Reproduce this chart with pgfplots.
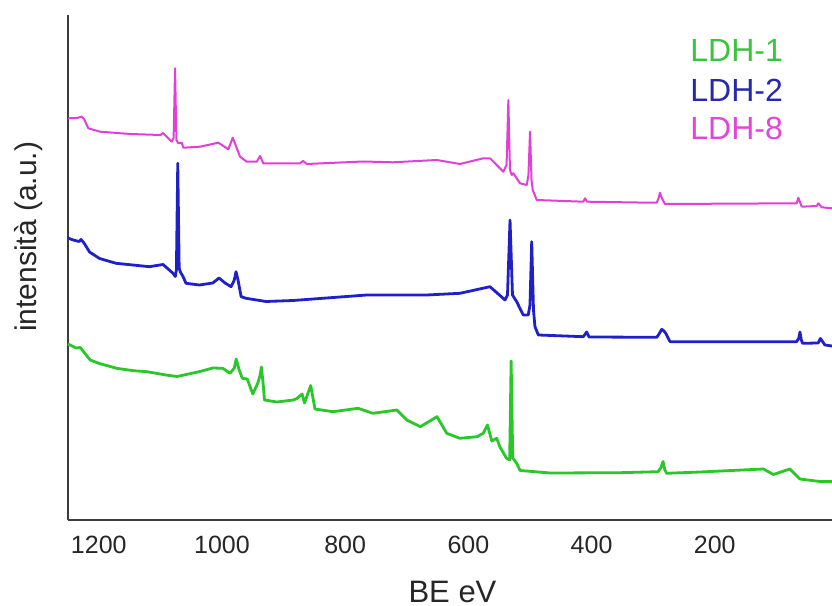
\documentclass[border=0pt]{standalone}
\usepackage{fontspec}
\setmainfont{Liberation Sans}
\usepackage{pgfplots}
\pgfplotsset{compat=1.18}
\definecolor{cmag}{RGB}{226,62,216}
\definecolor{cblue}{RGB}{32,32,200}
\definecolor{cgreen}{RGB}{40,200,40}
\definecolor{lgreen}{RGB}{60,195,60}
\definecolor{lblue}{RGB}{40,40,175}
\definecolor{lmag}{RGB}{226,70,216}
\definecolor{axisgray}{RGB}{60,60,60}
\begin{document}
\begin{tikzpicture}
\path[use as bounding box] (-34bp,-43bp) rectangle (382bp,260bp);
\begin{axis}[
  at={(0,0)}, anchor=south west,
  scale only axis, width=382bp, height=252.5bp,
  x dir=reverse, xmin=9.7, xmax=1250, ymin=0, ymax=505,
  axis x line*=bottom, axis y line*=left,
  axis line style={draw=axisgray, line width=1.2bp},
  xtick={200,400,...,1200}, ytick=\empty,
  major tick length=0pt,
  /pgf/number format/assume math mode=true,
  /pgf/number format/1000 sep={},
  tick label style={font=\fontsize{12.5bp}{15bp}\selectfont, text=black!85},
  xticklabel style={anchor=center, yshift=-12.5bp},
  every axis x label/.style={at={(axis description cs:0.5033,-0.1426)}, anchor=center, font=\fontsize{15.5bp}{18bp}\selectfont, text=black!85},
  every axis y label/.style={at={(axis description cs:-0.05105,0.561)}, rotate=90, anchor=center, font=\fontsize{15bp}{18bp}\selectfont, text=black!85},
  xlabel={BE eV}, ylabel={intensità (a.u.)},
  clip=false,
]
% LDH-8
\addplot[cmag, line width=1.0bp, line join=round] coordinates {
(1250,401.7) (1235,402) (1228,403.5) (1224,401) (1217,391.7) (1198,388.3) (1149,386) (1100,385) (1095.7,387)
(1081.6,378.3) (1078.5,382) (1076.2,451.7) (1074,380) (1070.9,376.7) (1065.3,377.3) (1062.7,372.3)
(1035.6,373.3) (1005.9,377.3) (989.7,370.7) (982.5,382.3) (970.7,363.3) (959.8,358.3) (943.6,358.3)
(938.2,364) (932.9,356.7) (873.3,356.7) (868.4,359) (862.4,356) (771,358.5) (722.3,357.7) (651.4,360)
(613.6,356) (575.7,361.7) (564.9,361.7) (543.3,348.3) (538,355) (535.1,420) (532.5,350) (529.6,345)
(527,346.7) (516.2,336.7) (505.3,335) (502.5,345) (499.9,388.3) (497.5,340) (495.5,330) (489,320)
(413.4,318.3) (410.6,321.7) (407.4,318.3) (305.1,317.3) (294.3,317.3) (291,322) (289,327.3) (286,322)
(280.9,316) (67.1,316.7) (64.3,322.3) (58.8,313.3) (34.5,314) (31.9,316.7) (26.4,312.7) (9.7,311.7)
};
% LDH-2
\addplot[cblue, line width=1.4bp, line join=round] coordinates {
(1250,282) (1241.6,280) (1232,278.5) (1228.8,280.5) (1224,277) (1215,268) (1198.8,261.5) (1172,256.7)
(1144.9,255) (1118,253.3) (1095.7,255.5) (1079.5,246.7) (1075.8,243.5) (1074,250) (1071.8,356.7)
(1069.5,252) (1067.6,248) (1063.7,244) (1058.4,236.7) (1036.8,235) (1015,237) (1004.8,242) (995,237)
(985.3,233.3) (980,240) (977.2,248.3) (974,240) (968.9,223.3) (960.9,221.7) (928.5,218.5) (884.6,219.5)
(765,225) (667.6,225) (613.6,226.7) (564.9,233.3) (540.5,220) (536.5,225) (532.4,300) (528.4,225)
(521.6,218.3) (510.9,205) (502.8,205) (500,215) (497.2,278.3) (494.3,210) (491.9,193.3) (486.4,185)
(413.4,183.3) (407.9,188) (404.1,183) (294.2,182.7) (290.5,186) (286.1,190.7) (282.4,189) (279.9,187)
(272.6,178.3) (67.1,178.3) (63.5,182) (61.7,188) (59.5,180) (57.4,176.7) (32.1,177) (28.5,181.5)
(21.2,175) (9.7,174)
};
% LDH-1
\addplot[cgreen, line width=1.4bp, line join=round] coordinates {
(1250,176) (1237,172) (1230,172.5) (1214,160) (1199,156.5) (1171,151.7) (1144,149.3) (1122,148.3)
(1091,145) (1073,143.5) (1037,148.3) (1015,152) (998.8,151.7) (987,146.7) (980,152) (977,161) (972,150)
(967,141.7) (959,141) (950,126) (942,136.7) (938,145) (936,153) (933,135) (931,120) (911,118) (884,120)
(878,121.7) (870,126) (866,117) (856,134.5) (849,111) (820,108.3) (779,111.7) (755,106.7) (716,110)
(700,100) (678,93.3) (651,103.3) (635,86.7) (614,81.7) (586,83.3) (576,86.7) (569,95) (562,79)
(554,81.7) (549,73.3) (538,61.7) (533,60) (530.6,159) (528,62) (521.6,56.7) (516,49.5) (467,47)
(354,47.3) (292,48.3) (287.7,52) (284,58.5) (281,50) (278,46.7) (224,48) (121,51) (105,45.5) (78,51)
(61.7,41) (29.3,38.5) (9.7,38.5)
};
\node[anchor=west, inner sep=0pt, text=lgreen, font=\fontsize{16bp}{19bp}\selectfont] at (axis cs:240.2,470) {LDH-1};
\node[anchor=west, inner sep=0pt, text=lblue, font=\fontsize{16bp}{19bp}\selectfont] at (axis cs:240.2,430) {LDH-2};
\node[anchor=west, inner sep=0pt, text=lmag, font=\fontsize{16bp}{19bp}\selectfont] at (axis cs:240.2,392) {LDH-8};
\end{axis}
\end{tikzpicture}
\end{document}
